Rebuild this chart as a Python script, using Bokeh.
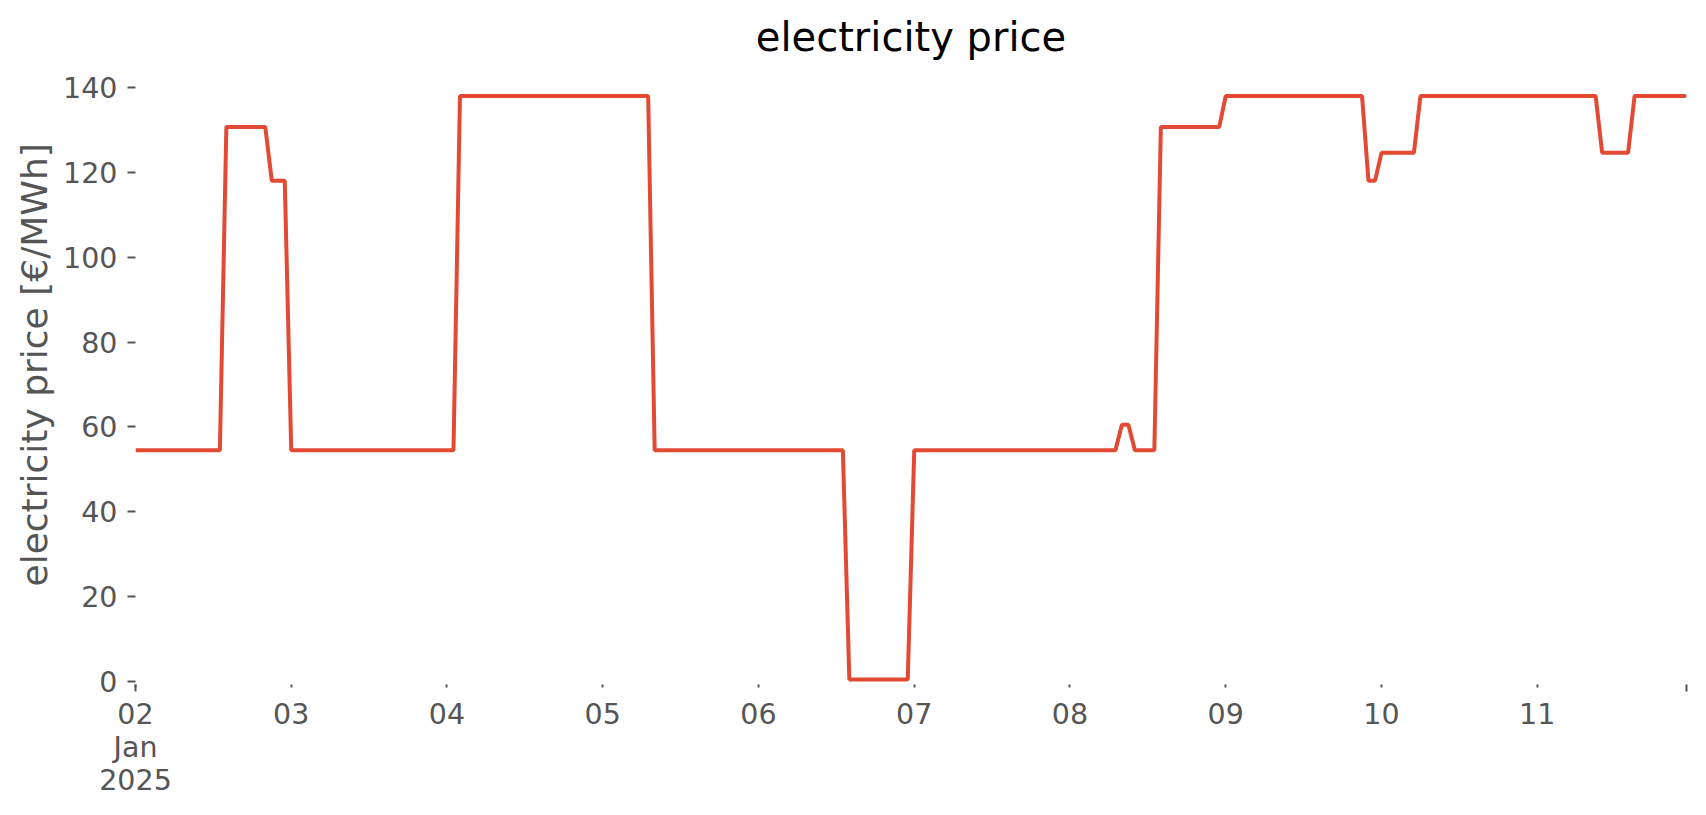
import numpy as np
import pandas as pd
from bokeh.plotting import figure
from bokeh.models import FixedTicker, Range1d, Label, Title
from bokeh.embed import file_html
from bokeh.resources import INLINE

# hourly prices, one list per day, 2025-01-02 .. 2025-01-11
day_02 = [54.5] * 14 + [130.7] * 7 + [118.0] * 3
day_03 = [54.5] * 24
day_04 = [54.5] * 2 + [138.0] * 22
day_05 = [138.0] * 8 + [54.5] * 16
day_06 = [54.5] * 14 + [0.5] * 10
day_07 = [54.5] * 24
day_08 = [54.5] * 8 + [60.5] * 2 + [54.5] * 4 + [130.7] * 10
day_09 = [138.0] * 22 + [118.0] * 2
day_10 = [124.6] * 6 + [138.0] * 18
day_11 = [138.0] * 10 + [124.6] * 5 + [138.0] * 9

prices = day_02 + day_03 + day_04 + day_05 + day_06 + day_07 + day_08 + day_09 + day_10 + day_11
times = pd.date_range("2025-01-02 00:00", periods=len(prices), freq="h")

day_labels = ["02\nJan\n2025", "03", "04", "05", "06", "07", "08", "09", "10", "11"]
day_ticks = pd.date_range("2025-01-02", periods=len(day_labels), freq="D")
y_ticks = [0, 20, 40, 60, 80, 100, 120, 140]

FONT = "DejaVu Sans"
GREY = "#555555"

def ms(t):
    return pd.Timestamp(t).value / 1e6

W, H = 1690, 804
BL, BR, BT, BB = 135, 4, 0, 120
FW, FH = W - BL - BR, H - BT - BB

p = figure(
    width=W, height=H,
    x_axis_type="datetime",
    x_range=Range1d(ms(times[0]), ms(times[-1])),
    y_range=Range1d(-0.7, 160.5),
    output_backend="svg", toolbar_location=None,
    min_border_left=BL, min_border_right=BR,
    min_border_top=BT, min_border_bottom=BB,
)
p.background_fill_color = "white"
p.border_fill_color = "white"
p.outline_line_color = None
p.xgrid.visible = False
p.ygrid.visible = False

p.line(times, prices, line_color="#E24A33", line_width=4)

# chart title at the top, centred over the axes
title = Label(
    x=FW / 2, y=FH - 36, x_units="screen", y_units="screen",
    text="electricity price", text_font=FONT, text_font_size="40px",
    text_color="black", text_align="center", text_baseline="middle",
)
p.add_layout(title)

# y axis label, placed as in the original (centred on a lower axes box)
ylab = Title(
    text="electricity price [€/MWh]", text_font=FONT, text_font_size="36px",
    text_font_style="normal", text_color=GREY, align="left", offset=98,
    vertical_align="top", standoff=7,
)
p.add_layout(ylab, "left")

# x axis
tick_ms = [ms(t) for t in day_ticks]
p.xaxis.ticker = FixedTicker(ticks=tick_ms, minor_ticks=[tick_ms[0], ms(times[-1])])
p.xaxis.major_label_overrides = {t: lab for t, lab in zip(tick_ms, day_labels)}
p.xaxis.axis_line_color = None
p.xaxis.major_tick_in = 0
p.xaxis.major_tick_out = 3
p.xaxis.minor_tick_in = 0
p.xaxis.minor_tick_out = 7
p.xaxis.major_tick_line_color = GREY
p.xaxis.minor_tick_line_color = GREY
p.xaxis.major_tick_line_width = 2
p.xaxis.minor_tick_line_width = 2
p.xaxis.major_label_text_font = FONT
p.xaxis.major_label_text_font_size = "28.5px"
p.xaxis.major_label_text_color = GREY
p.xaxis.major_label_text_line_height = 1.0
p.xaxis.major_label_standoff = 6

# y axis
p.yaxis.ticker = FixedTicker(ticks=y_ticks)
p.yaxis.axis_line_color = None
p.yaxis.major_tick_in = 0
p.yaxis.major_tick_out = 8
p.yaxis.minor_tick_line_color = None
p.yaxis.major_tick_line_color = GREY
p.yaxis.major_tick_line_width = 2
p.yaxis.major_label_text_font = FONT
p.yaxis.major_label_text_font_size = "28.5px"
p.yaxis.major_label_text_color = GREY
p.yaxis.major_label_standoff = 10

open("out.html", "w").write(file_html(p, INLINE))
